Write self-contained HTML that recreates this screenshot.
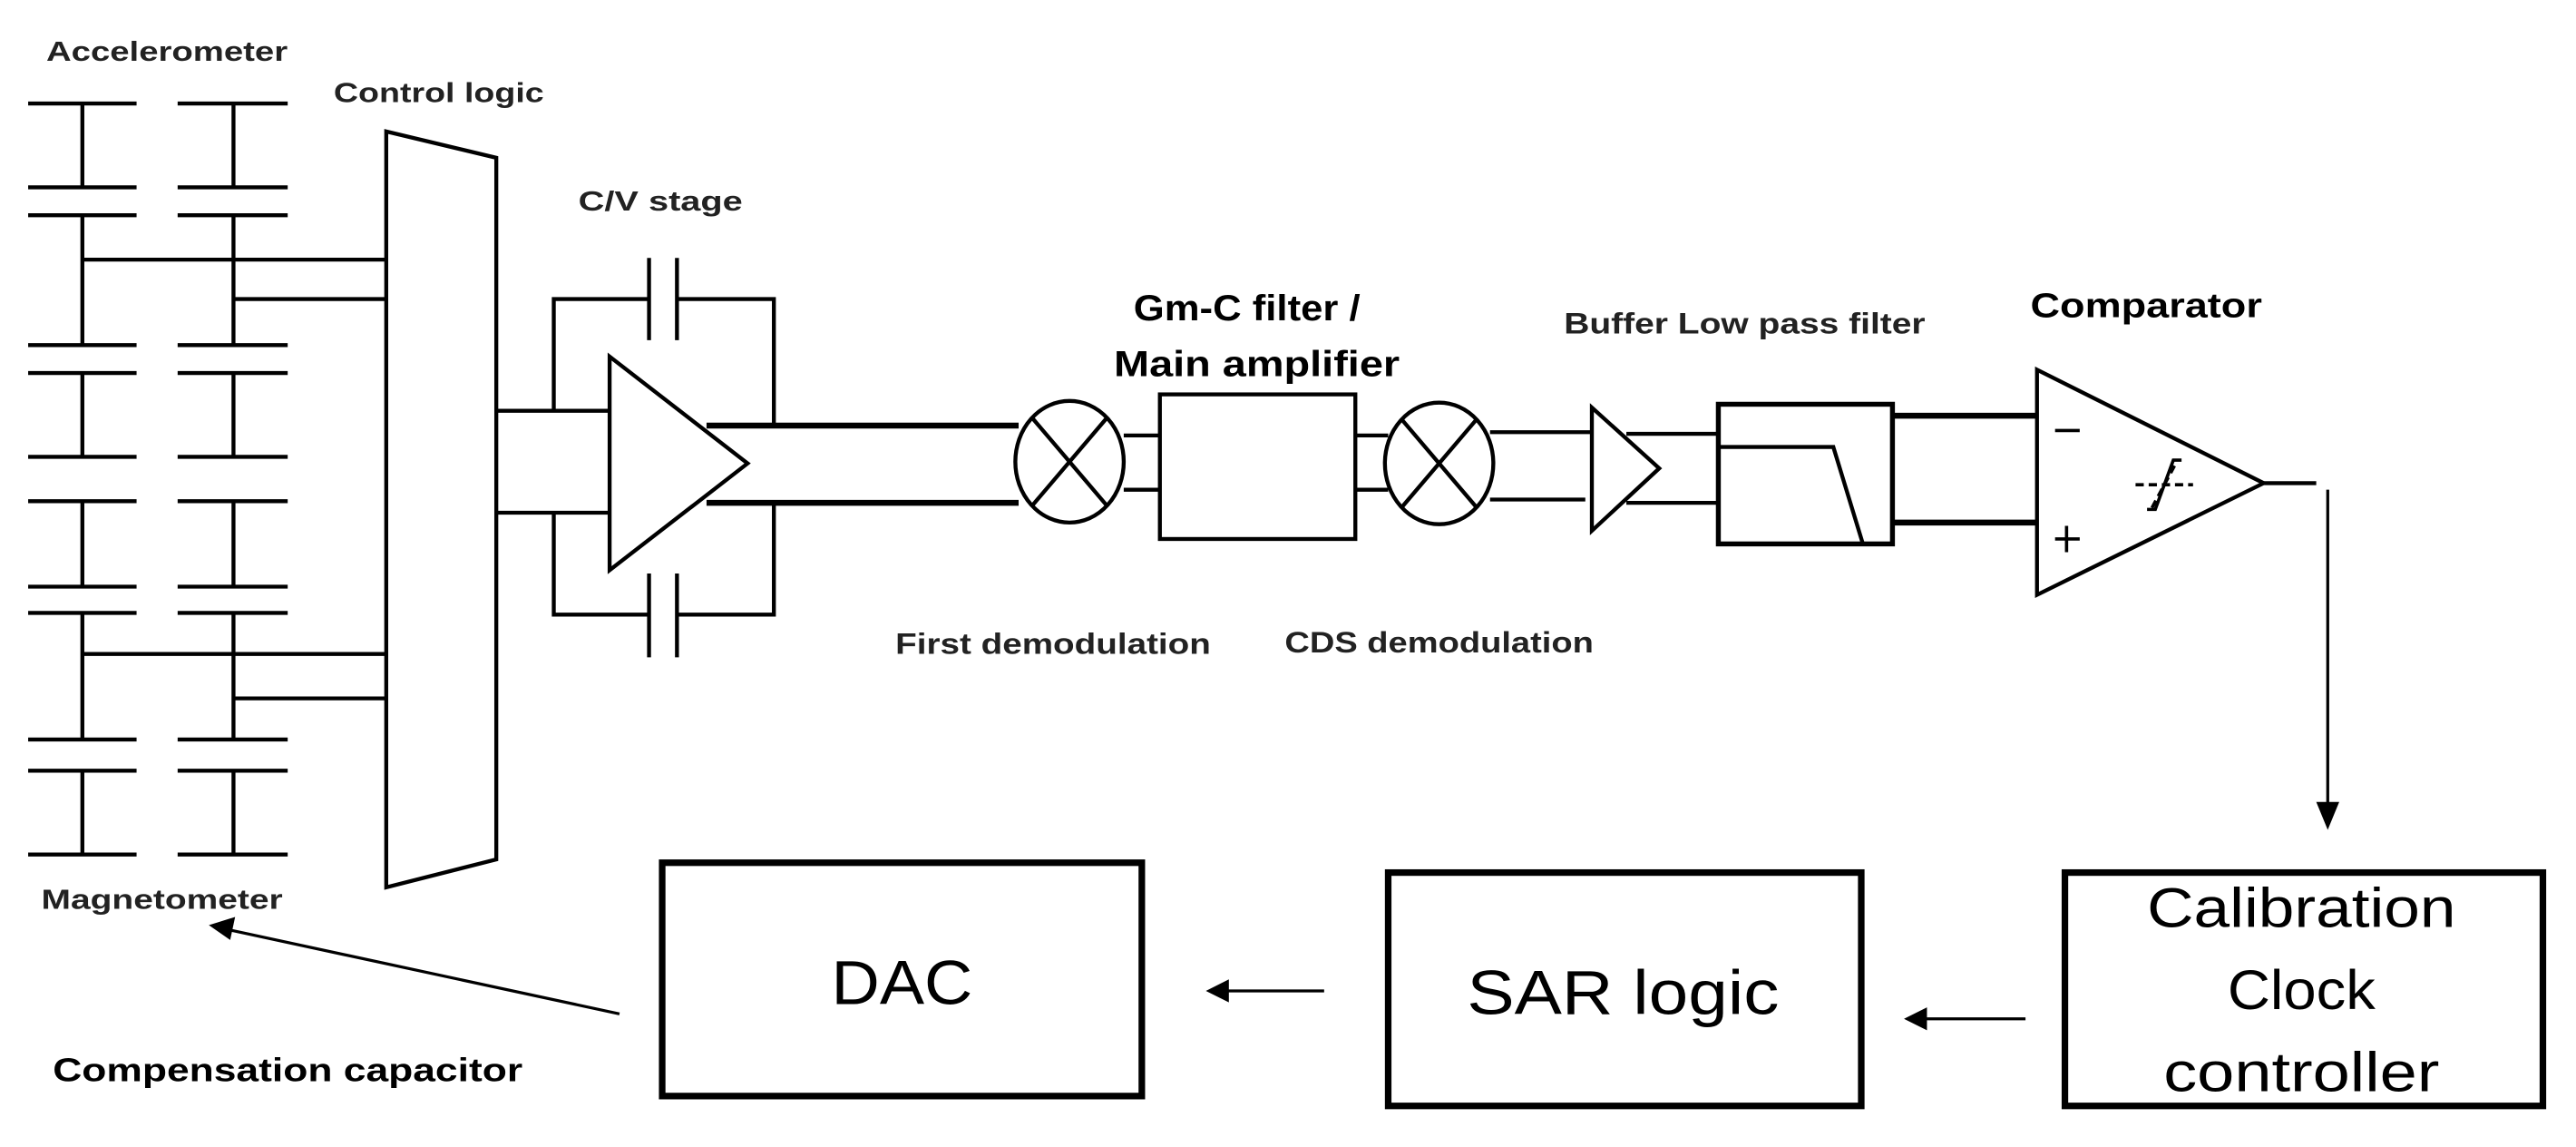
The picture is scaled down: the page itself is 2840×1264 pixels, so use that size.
<!DOCTYPE html>
<html><head><meta charset="utf-8"><style>html,body{margin:0;padding:0;background:#fff}svg{display:block}</style></head>
<body>
<svg width="2840" height="1264" viewBox="0 0 1568 698" xmlns="http://www.w3.org/2000/svg" font-family="Liberation Sans, sans-serif">
<rect width="1568" height="698" fill="#fff"/>
<g stroke="#000" stroke-width="2.4" fill="none">
<!-- capacitor plates -->
<g id="plates">
<path d="M17 63H83M17 114H83M17 131H83M17 210H83M17 227H83M17 278H83M17 305H83M17 357H83M17 373H83M17 450H83M17 469H83M17 520H83"/>
<path d="M108 63H175M108 114H175M108 131H175M108 210H175M108 227H175M108 278H175M108 305H175M108 357H175M108 373H175M108 450H175M108 469H175M108 520H175"/>
<path d="M50 63V114M50 131V210M50 227V278M50 305V357M50 373V450M50 469V520"/>
<path d="M142 63V114M142 131V210M142 227V278M142 305V357M142 373V450M142 469V520"/>
</g>
<path d="M50 158H235M142 182H235M50 398H235M142 425H235"/>
<path d="M235 80L302 96V523L235 540Z"/>
<path d="M302 250H371M302 312H371"/>
<path d="M371 217L455 282L371 347Z"/>
<path d="M337 250V182H395M412 182H471V258M337 312V374H395M412 374H471V306"/>
<path d="M395 157V207M412 157V207M395 349V400M412 349V400"/>
<path d="M430 259H620M430 306H620" stroke-width="3.6"/>
<ellipse cx="651" cy="281" rx="33" ry="37"/>
<path d="M628 254L674 308M674 254L628 308"/>
<path d="M684 265H706M684 298H706"/>
<rect x="706" y="240" width="119" height="88"/>
<path d="M825 265H845M825 298H845"/>
<ellipse cx="876" cy="282" rx="33" ry="37"/>
<path d="M853 255L899 309M899 255L853 309"/>
<path d="M907 263H968M907 304H965"/>
<path d="M969 248L1010 285L969 323Z"/>
<path d="M990 264H1046M990 306H1046"/>
<rect x="1046" y="246" width="106" height="85" stroke-width="3"/>
<path d="M1046 272H1116L1134 331"/>
<path d="M1152 253H1240M1152 318H1240" stroke-width="3.6"/>
<path d="M1240 225L1378 294L1240 362Z"/>
<path d="M1251 262H1266M1251 328H1266M1258 320V336" stroke-width="2"/>
<path d="M1300 295H1335M1310 309L1325 281" stroke-width="2" stroke-dasharray="5 3"/>
<path d="M1307 310H1312L1323 280H1328" stroke-width="2"/>
<path d="M1378 294H1410"/>
<path d="M1417 298V492" stroke-width="1.8"/>
<rect x="403" y="525" width="292" height="142" stroke-width="4"/>
<rect x="845" y="531" width="288" height="142" stroke-width="4"/>
<rect x="1257" y="531" width="291" height="142" stroke-width="4"/>
<path d="M806 603H745M1233 620H1170M377 617L140 566" stroke-width="1.8"/>
</g>
<g fill="#000">
<path d="M1417 505L1410 488H1424Z"/>
<path d="M734 603L748 596V610Z"/>
<path d="M1159 620L1173 613V627Z"/>
<path d="M127 563L143 558L140 572Z"/>
</g>
<g font-weight="bold" fill="#222">
<text x="28" y="37" font-size="17" textLength="147" lengthAdjust="spacingAndGlyphs">Accelerometer</text>
<text x="203" y="62" font-size="17" textLength="128" lengthAdjust="spacingAndGlyphs">Control logic</text>
<text x="352" y="128" font-size="17" textLength="100" lengthAdjust="spacingAndGlyphs">C/V stage</text>
<text x="25" y="553" font-size="17" textLength="147" lengthAdjust="spacingAndGlyphs">Magnetometer</text>
<text x="32" y="658" font-size="20" fill="#000" textLength="286" lengthAdjust="spacingAndGlyphs">Compensation capacitor</text>
<text x="690" y="195" font-size="22" fill="#000" textLength="138" lengthAdjust="spacingAndGlyphs">Gm-C filter /</text>
<text x="678" y="229" font-size="22" fill="#000" textLength="174" lengthAdjust="spacingAndGlyphs">Main amplifier</text>
<text x="952" y="203" font-size="18" textLength="220" lengthAdjust="spacingAndGlyphs">Buffer  Low pass filter</text>
<text x="1236" y="193" font-size="21" fill="#000" textLength="141" lengthAdjust="spacingAndGlyphs">Comparator</text>
<text x="545" y="398" font-size="18" textLength="192" lengthAdjust="spacingAndGlyphs">First demodulation</text>
<text x="782" y="397" font-size="18" textLength="188" lengthAdjust="spacingAndGlyphs">CDS demodulation</text>
</g>
<g fill="#000" font-size="38" text-anchor="middle">
<text x="549" y="611" textLength="86" lengthAdjust="spacingAndGlyphs">DAC</text>
<text x="988" y="617" textLength="190" lengthAdjust="spacingAndGlyphs">SAR logic</text>
<text x="1401" y="564" font-size="34" textLength="188" lengthAdjust="spacingAndGlyphs">Calibration</text>
<text x="1401" y="614" font-size="34" textLength="90" lengthAdjust="spacingAndGlyphs">Clock</text>
<text x="1401" y="664" font-size="34" textLength="168" lengthAdjust="spacingAndGlyphs">controller</text>
</g>
</svg>
</body></html>
